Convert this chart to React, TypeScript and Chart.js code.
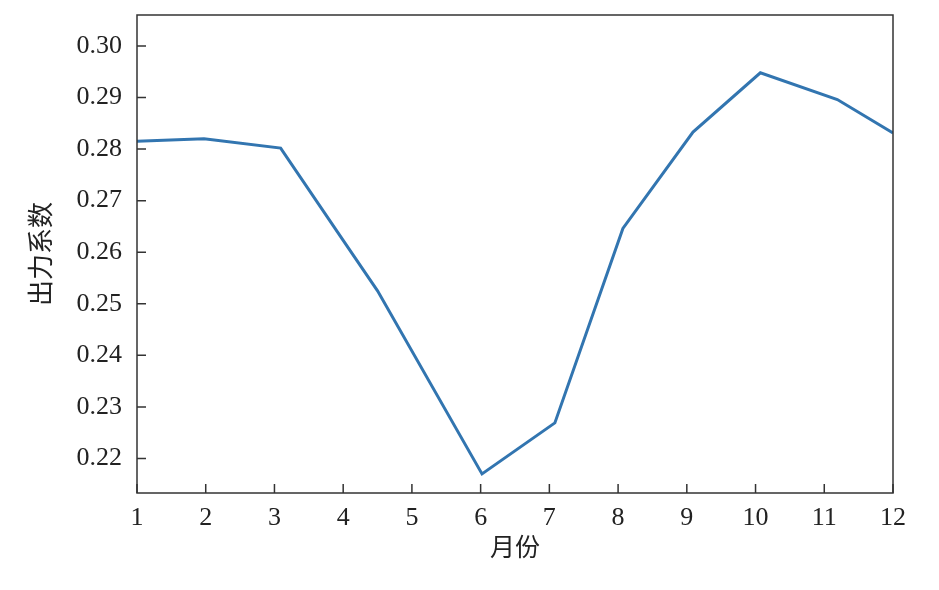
import { useRef, useEffect } from "react";
import { Chart, registerables } from "chart.js";

Chart.register(...registerables);

// month positions (fractional) and output coefficient
const months = [1, 1.975, 3.09, 4.0, 4.5, 6.02, 7.08, 8.07, 9.09, 10.07, 11.19, 12];
const coefficients = [
  0.2815, 0.282, 0.2802, 0.2623, 0.2525, 0.217, 0.2269, 0.2646, 0.2833, 0.2948, 0.2896, 0.2831,
];
const xTicks = [1, 2, 3, 4, 5, 6, 7, 8, 9, 10, 11, 12];
const yTicks = [0.22, 0.23, 0.24, 0.25, 0.26, 0.27, 0.28, 0.29, 0.3];

const LINE = "#3275b0";
const AXIS = "#333333";
const FONT = "'Liberation Serif', 'Noto Sans CJK SC', serif";

// box around the plot area plus inward tick marks
const framePlugin = {
  id: "frame",
  afterDraw(chart: Chart) {
    const { ctx, chartArea: a, scales } = chart;
    ctx.save();
    ctx.strokeStyle = AXIS;
    ctx.lineWidth = 1.5;
    ctx.strokeRect(a.left, a.top, a.right - a.left, a.bottom - a.top);
    ctx.beginPath();
    for (const v of yTicks) {
      const y = scales.y.getPixelForValue(v);
      ctx.moveTo(a.left, y);
      ctx.lineTo(a.left + 9, y);
    }
    for (const v of xTicks) {
      const x = scales.x.getPixelForValue(v);
      ctx.moveTo(x, a.bottom);
      ctx.lineTo(x, a.bottom - 9);
    }
    ctx.stroke();
    ctx.restore();
  },
};

export default function App() {
  const canvasRef = useRef<HTMLCanvasElement>(null);

  useEffect(() => {
    document.body.style.margin = "0";
    if (!canvasRef.current) return;

    const chart = new Chart(canvasRef.current, {
      type: "line",
      data: {
        datasets: [
          {
            data: months.map((m, i) => ({ x: m, y: coefficients[i] })),
            borderColor: LINE,
            borderWidth: 3,
            pointRadius: 0,
            tension: 0,
            fill: false,
          },
        ],
      },
      options: {
        animation: false,
        responsive: true,
        maintainAspectRatio: false,
        layout: { padding: { left: 28, top: 15, right: 46, bottom: 26 } },
        plugins: {
          legend: { display: false },
          tooltip: { enabled: false },
        },
        scales: {
          x: {
            type: "linear",
            min: 1,
            max: 12,
            afterBuildTicks: (s: any) => {
              s.ticks = xTicks.map((v) => ({ value: v }));
            },
            afterFit: (s: any) => {
              s.height = 71;
            },
            grid: { display: false, drawTicks: false },
            border: { display: false },
            ticks: {
              color: "#222",
              padding: 10,
              maxRotation: 0,
              font: { family: FONT, size: 26 },
            },
            title: {
              display: true,
              text: "月份",
              color: "#222",
              padding: 0,
              font: { family: FONT, size: 25 },
            },
          },
          y: {
            min: 0.2133,
            max: 0.306,
            afterBuildTicks: (s: any) => {
              s.ticks = yTicks.map((v) => ({ value: v }));
            },
            afterFit: (s: any) => {
              s.width = 109;
              s.paddingTop = 0;
              s.paddingBottom = 0;
            },
            grid: { display: false, drawTicks: false },
            border: { display: false },
            ticks: {
              color: "#222",
              padding: 15,
              font: { family: FONT, size: 26 },
              callback: (v: any) => Number(v).toFixed(2),
            },
            title: {
              display: true,
              text: "出力系数",
              color: "#222",
              padding: 0,
              font: { family: FONT, size: 26 },
            },
          },
        },
      },
      plugins: [framePlugin],
    });

    return () => chart.destroy();
  }, []);

  return (
    <div style={{ width: 939, height: 590, position: "relative", background: "#fff" }}>
      <canvas ref={canvasRef} />
    </div>
  );
}
